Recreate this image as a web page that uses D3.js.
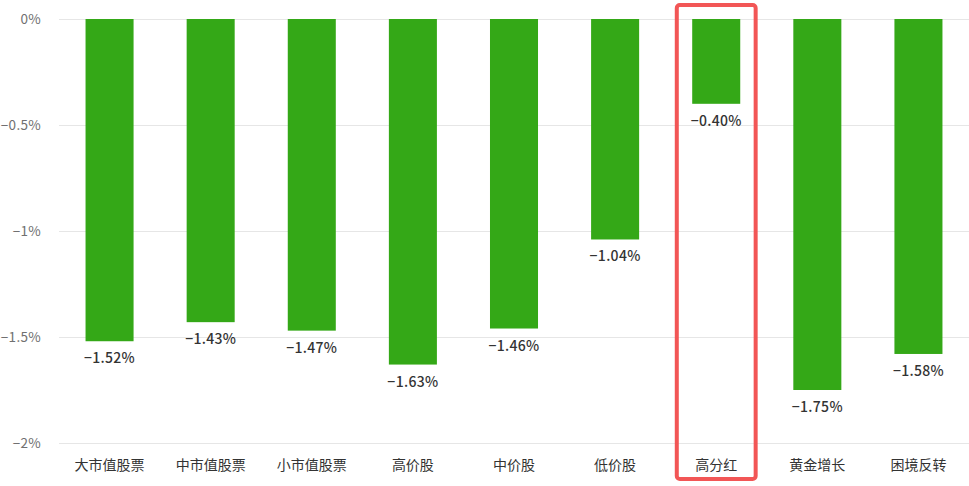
<!DOCTYPE html>
<html lang="zh">
<head>
  <meta charset="UTF-8">
  <title>风格涨跌幅</title>
<style>
    body { margin: 0; background: #fff; }
    svg { display: block; font-family: "Noto Sans CJK SC", "Noto Sans", sans-serif; }
    .grid line { stroke: #e6e6e6; stroke-width: 1; }
    .bar { fill: #34a817; }
  </style>
</head>
<body>
<svg id="chart"></svg>
<script src="https://d3js.org/d3.v7.min.js"></script>
<script>
    // Data
    const categories = ['大市值股票', '中市值股票', '小市值股票', '高价股', '中价股', '低价股', '高分红', '黄金增长', '困境反转'];
    const values = [-1.52, -1.43, -1.47, -1.63, -1.46, -1.04, -0.40, -1.75, -1.58];
    const tickValues = [0, -0.5, -1, -1.5, -2];
    const tickLabels = ['0%', '−0.5%', '−1%', '−1.5%', '−2%'];
    const highlight = '高分红';

    const W = 969, H = 486;
    const margin = { top: 19, right: 0, bottom: 43, left: 59 };

    const svg = d3.select('#chart').attr('width', W).attr('height', H);

    const x = d3.scaleBand()
      .domain(categories)
      .range([margin.left, W - margin.right])
      .paddingInner(0.525)
      .paddingOuter(0.2625);

    const y = d3.scaleLinear()
      .domain([0, -2])
      .range([margin.top, H - margin.bottom]);

    // Gridlines
    svg.append('g')
      .attr('class', 'grid')
      .selectAll('line')
      .data(tickValues)
      .enter().append('line')
      .attr('x1', margin.left)
      .attr('x2', W - margin.right)
      .attr('y1', d => Math.round(y(d)) + 0.5)
      .attr('y2', d => Math.round(y(d)) + 0.5);

    // Y axis labels
    svg.append('g')
      .selectAll('text')
      .data(tickValues)
      .enter().append('text')
      .attr('x', 41)
      .attr('y', d => y(d))
      .attr('dy', '0.35em')
      .attr('text-anchor', 'end')
      .attr('fill', '#707070')
      .style('font-size', '13.5px')
      .style('letter-spacing', '0.3px')
      .text((d, i) => tickLabels[i]);

    // Bars
    svg.selectAll('.bar')
      .data(values)
      .enter().append('rect')
      .attr('class', 'bar')
      .attr('x', (d, i) => x(categories[i]))
      .attr('y', y(0))
      .attr('width', x.bandwidth())
      .attr('height', d => y(d) - y(0));

    // Value labels
    svg.selectAll('.val')
      .data(values)
      .enter().append('text')
      .attr('class', 'val')
      .attr('x', (d, i) => x(categories[i]) + x.bandwidth() / 2)
      .attr('y', d => y(d) + 22)
      .attr('text-anchor', 'middle')
      .attr('fill', '#333')
      .style('font-size', '14px')
      .style('font-weight', '500')
      .style('letter-spacing', '0.3px')
      .text(d => '−' + Math.abs(d).toFixed(2) + '%');

    // Category labels
    svg.selectAll('.cat')
      .data(categories)
      .enter().append('text')
      .attr('class', 'cat')
      .attr('x', d => x(d) + x.bandwidth() / 2)
      .attr('y', H - margin.bottom + 27)
      .attr('text-anchor', 'middle')
      .attr('fill', '#333')
      .style('font-size', '14px')
      .text(d => d);

    // Highlight box
    const step = x.step();
    const cx = x(highlight) + x.bandwidth() / 2;
    svg.append('rect')
      .attr('x', cx - step * 0.39)
      .attr('y', 5)
      .attr('width', step * 0.78)
      .attr('height', 474)
      .attr('rx', 3)
      .attr('fill', 'none')
      .attr('stroke', '#f25656')
      .attr('stroke-width', 4);
  </script>
</body>
</html>
